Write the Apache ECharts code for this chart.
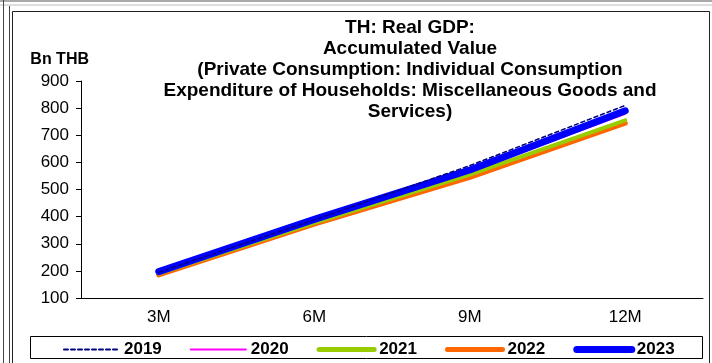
<!DOCTYPE html>
<html>
<head>
<meta charset="utf-8">
<script src="https://cdn.jsdelivr.net/npm/echarts@6/dist/echarts.min.js"></script>
<style>
  html, body { margin: 0; padding: 0; background: #fff; }
  #chart { width: 712px; height: 363px; }
</style>
</head>
<body>
<div id="chart"></div>
<script>
  const categories = ['3M', '6M', '9M', '12M'];
  const years = ['2019', '2020', '2021', '2022', '2023'];
  const v2019 = [195, 388, 588, 810];
  const v2020 = [190, 380, 565, 778];
  const v2021 = [190, 377, 555, 755];
  const v2022 = [185, 372, 545, 745];
  const v2023 = [197, 390, 572, 790];

  const font = 'Arial, "Liberation Sans", sans-serif';
  const chart = echarts.init(document.getElementById('chart'));

  // 每条线的样式
  const styles = [
    { color: '#000080', width: 1.5, legendWidth: 2, type: [4, 3], z: 9 },
    { color: '#ff00ff', width: 1.5, legendWidth: 2, type: 'solid', z: 3 },
    { color: '#99cc00', width: 4, legendWidth: 5, type: 'solid', z: 4 },
    { color: '#ff6600', width: 5, legendWidth: 5, type: 'solid', z: 3 },
    { color: '#0000ff', width: 7, legendWidth: 7, type: 'solid', z: 6 }
  ];
  const values = [v2019, v2020, v2021, v2022, v2023];

  const option = {
    animation: false,
    title: {
      text: 'TH: Real GDP:\nAccumulated Value\n(Private Consumption: Individual Consumption\nExpenditure of Households: Miscellaneous Goods and\nServices)',
      left: 405,
      top: 12,
      textAlign: 'center',
      textStyle: { fontFamily: font, fontSize: 19, fontWeight: 'bold', color: '#000', lineHeight: 21 }
    },
    legend: {
      data: years.map((y, i) => ({
        name: y,
        itemStyle: { opacity: 0 },
        lineStyle: { color: styles[i].color, width: styles[i].legendWidth, type: styles[i].type, cap: 'round' }
      })),
      left: 58,
      top: 336,
      itemWidth: 55,
      itemHeight: 14,
      itemGap: 28,
      textStyle: { fontFamily: font, fontSize: 17, fontWeight: 'bold', color: '#000' }
    },
    grid: { left: 81, right: 9, top: 81, bottom: 65 },
    xAxis: {
      type: 'category',
      data: categories,
      axisLine: { lineStyle: { color: '#000' } },
      axisTick: { lineStyle: { color: '#000' }, length: 5 },
      axisLabel: { fontFamily: font, fontSize: 17, color: '#000', margin: 11 }
    },
    yAxis: {
      type: 'value',
      min: 100,
      max: 900,
      interval: 100,
      name: 'Bn THB',
      nameLocation: 'end',
      nameGap: 13,
      nameTextStyle: { fontFamily: font, fontSize: 16, fontWeight: 'bold', color: '#000', align: 'right', padding: [0, -8, 0, 0] },
      axisLine: { show: true, lineStyle: { color: '#000' } },
      axisTick: { show: true, lineStyle: { color: '#000' }, length: 5 },
      splitLine: { show: false },
      axisLabel: { fontFamily: font, fontSize: 17, color: '#000', margin: 12 }
    },
    series: years.map((y, i) => ({
      name: y,
      type: 'line',
      data: values[i],
      symbol: 'none',
      color: styles[i].color,
      lineStyle: { color: styles[i].color, width: styles[i].width, type: styles[i].type, cap: 'round', join: 'round' },
      z: styles[i].z
    })),
    graphic: [
      { type: 'line', shape: { x1: 0, y1: 1, x2: 712, y2: 1 }, style: { stroke: '#555', lineWidth: 1 } },
      { type: 'line', shape: { x1: 0, y1: 5, x2: 712, y2: 5 }, style: { stroke: '#bbb', lineWidth: 1 } },
      { type: 'line', shape: { x1: 3.5, y1: 0, x2: 3.5, y2: 363 }, style: { stroke: '#444', lineWidth: 1 } },
      { type: 'line', shape: { x1: 9.5, y1: 6, x2: 9.5, y2: 363 }, style: { stroke: '#444', lineWidth: 1 } },
      { type: 'rect', shape: { x: 12.5, y: 11.5, width: 697, height: 360 }, style: { fill: 'none', stroke: '#222', lineWidth: 1 } },
      { type: 'rect', shape: { x: 30.5, y: 336.5, width: 672, height: 22 }, style: { fill: 'none', stroke: '#000', lineWidth: 1 } }
    ]
  };

  chart.setOption(option);
</script>
</body>
</html>
